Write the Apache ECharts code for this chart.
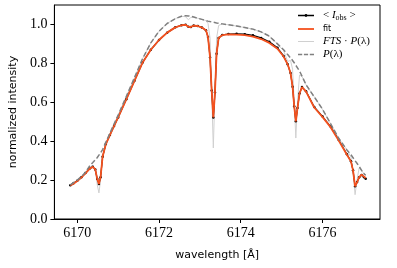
<!DOCTYPE html>
<html>
<head>
<meta charset="utf-8">
<script src="https://cdn.jsdelivr.net/npm/echarts@6/dist/echarts.min.js"></script>
<style>html,body{margin:0;padding:0;background:#fff;}#chart{width:397px;height:268px;}</style>
</head>
<body>
<div id="chart"></div>
<script>
const wavelength = [6169.83,6169.90,6170.00,6170.10,6170.20,6170.30,6170.38,6170.44,6170.49,6170.53,6170.57,6170.62,6170.70,6170.80,6170.90,6171.00,6171.20,6171.40,6171.60,6171.80,6172.00,6172.20,6172.40,6172.55,6172.65,6172.72,6172.78,6172.85,6172.95,6173.05,6173.15,6173.20,6173.25,6173.29,6173.33,6173.37,6173.41,6173.46,6173.55,6173.70,6173.90,6174.10,6174.30,6174.50,6174.70,6174.90,6175.05,6175.15,6175.22,6175.27,6175.31,6175.35,6175.39,6175.44,6175.50,6175.60,6175.80,6176.00,6176.20,6176.40,6176.60,6176.70,6176.75,6176.80,6176.85,6176.90,6176.96,6177.02,6177.06];
const fitIntensity = [0.172,0.180,0.195,0.213,0.234,0.258,0.268,0.255,0.205,0.180,0.215,0.320,0.385,0.432,0.478,0.522,0.615,0.710,0.805,0.870,0.920,0.958,0.985,0.996,0.998,0.988,0.987,0.994,0.992,0.984,0.970,0.935,0.830,0.660,0.522,0.650,0.850,0.930,0.945,0.949,0.948,0.945,0.938,0.925,0.905,0.875,0.835,0.795,0.750,0.680,0.580,0.502,0.570,0.645,0.678,0.655,0.573,0.525,0.472,0.403,0.330,0.295,0.250,0.168,0.190,0.215,0.228,0.218,0.210];
const obsIntensity = [0.174,0.182,0.197,0.215,0.236,0.258,0.268,0.255,0.205,0.180,0.215,0.320,0.385,0.432,0.478,0.522,0.615,0.710,0.805,0.870,0.920,0.958,0.985,0.996,0.998,0.988,0.987,0.994,0.992,0.984,0.970,0.935,0.830,0.660,0.522,0.650,0.850,0.930,0.946,0.951,0.952,0.950,0.944,0.931,0.911,0.880,0.838,0.795,0.750,0.680,0.580,0.502,0.570,0.645,0.678,0.657,0.576,0.528,0.475,0.406,0.333,0.297,0.250,0.168,0.190,0.215,0.226,0.214,0.207];
const ftsIntensity = [0.176,0.186,0.200,0.218,0.240,0.266,0.276,0.255,0.175,0.134,0.200,0.320,0.390,0.440,0.488,0.534,0.630,0.727,0.825,0.905,0.965,1.005,1.030,1.042,1.040,1.024,1.036,1.038,1.032,1.026,1.020,1.005,0.930,0.650,0.365,0.650,0.930,0.995,1.003,0.998,0.992,0.984,0.976,0.962,0.940,0.900,0.865,0.810,0.815,0.770,0.600,0.416,0.600,0.740,0.733,0.690,0.628,0.565,0.490,0.415,0.355,0.318,0.240,0.125,0.205,0.262,0.250,0.232,0.225];
const prefilter = [0.176,0.186,0.200,0.218,0.240,0.272,0.290,0.304,0.316,0.328,0.340,0.357,0.395,0.442,0.488,0.534,0.630,0.727,0.825,0.905,0.965,1.005,1.030,1.042,1.045,1.044,1.042,1.038,1.032,1.026,1.020,1.017,1.015,1.013,1.012,1.010,1.008,1.006,1.003,0.998,0.992,0.984,0.976,0.962,0.940,0.900,0.870,0.845,0.828,0.815,0.803,0.790,0.777,0.760,0.735,0.690,0.628,0.565,0.490,0.415,0.355,0.330,0.315,0.300,0.285,0.270,0.250,0.232,0.225];
const xTicks = [6170, 6172, 6174, 6176];
const yTicks = [0.0, 0.2, 0.4, 0.6, 0.8, 1.0];
const seriesNames = ['obs', 'fit', 'fts', 'P'];

const pairs = arr => wavelength.map((w, i) => [w, arr[i]]);
const serif = 'Liberation Serif';
const chart = echarts.init(document.getElementById('chart'), null, {renderer: 'canvas'});
const legendText = {
  obs: '{r|< }{i|I}{s|obs}{r| >}',
  fit: '{f|fit}',
  fts: '{i|FTS}{r| · }{i|P}{r|(λ)}',
  P: '{i|P}{r|(λ)}'
};
const box = 'M0,0 M20,10 ';
const icons = {
  obs: 'path://' + box + 'M0,4.3 h16 v1.4 h-16 z M6.6,5 a1.4,1.4 0 1,1 2.8,0 a1.4,1.4 0 1,1 -2.8,0 z',
  fit: 'path://' + box + 'M0,4.1 h16 v1.8 h-16 z',
  fts: 'path://' + box + 'M0,4.5 h16 v1 h-16 z',
  P: 'path://' + box + 'M0,4.25 h4.2 v1.5 h-4.2 z M5.9,4.25 h4.2 v1.5 h-4.2 z M11.8,4.25 h4.2 v1.5 h-4.2 z'
};
chart.setOption({
  animation: false,
  grid: {left: 51, right: 17, top: 5, bottom: 49, show: true, borderColor: '#000', borderWidth: 1, backgroundColor: 'transparent'},
  xAxis: {
    type: 'value', min: 6169.44, max: 6177.41,
    name: 'wavelength [Å]', nameLocation: 'middle', nameGap: 30.5,
    nameTextStyle: {fontFamily: 'DejaVu Sans', fontSize: 11, color: '#000'},
    axisLine: {show: true, lineStyle: {color: '#000', width: 1}},
    axisTick: {show: true, inside: false, length: 4, lineStyle: {color: '#000'}, customValues: xTicks},
    axisLabel: {fontFamily: serif, fontSize: 14, color: '#000', margin: 7, customValues: xTicks, formatter: v => String(Math.round(v))},
    splitLine: {show: false}
  },
  yAxis: {
    type: 'value', min: 0, max: 1.1,
    name: 'normalized intensity', nameLocation: 'middle', nameGap: 33, nameRotate: 90,
    nameTextStyle: {fontFamily: 'DejaVu Sans', fontSize: 11, color: '#000'},
    axisLine: {show: true, lineStyle: {color: '#000', width: 1}},
    axisTick: {show: true, inside: false, length: 4, lineStyle: {color: '#000'}, customValues: yTicks},
    axisLabel: {fontFamily: serif, fontSize: 14, color: '#000', margin: 7, customValues: yTicks, formatter: v => v.toFixed(1)},
    splitLine: {show: false}
  },
  legend: {
    orient: 'vertical', left: 298, top: 10, itemWidth: 20, itemHeight: 10, itemGap: 2,
    padding: 0, symbolKeepAspect: false,
    data: seriesNames.map(n => ({name: n, icon: icons[n]})),
    itemStyle: {borderWidth: 0},
    formatter: name => legendText[name],
    textStyle: {
      color: '#000', lineHeight: 10,
      rich: {
        r: {fontFamily: serif, fontSize: 11, color: '#000'},
        i: {fontFamily: serif, fontSize: 11, fontStyle: 'italic', color: '#000'},
        s: {fontFamily: serif, fontSize: 8, color: '#000', padding: [5, 0, 0, 0]},
        f: {fontFamily: 'DejaVu Sans', fontSize: 8, color: '#000'}
      }
    }
  },
  series: [
    {name: 'obs', type: 'line', data: pairs(obsIntensity), symbol: 'circle', symbolSize: 2.5, showSymbol: true,
     itemStyle: {color: '#000'}, lineStyle: {color: '#000', width: 1.2}, z: 2},
    {name: 'fit', type: 'line', data: pairs(fitIntensity), symbol: 'none',
     lineStyle: {color: '#f4511e', width: 1.8}, itemStyle: {color: '#f4511e'}, z: 3},
    {name: 'fts', type: 'line', data: pairs(ftsIntensity), symbol: 'none',
     lineStyle: {color: '#d0d0d0', width: 1}, itemStyle: {color: '#d0d0d0'}, z: 1},
    {name: 'P', type: 'line', data: pairs(prefilter), symbol: 'none',
     lineStyle: {color: '#808080', width: 1.5, type: [5, 2.5]}, itemStyle: {color: '#808080'}, z: 4}
  ]
});
</script>
</body>
</html>
